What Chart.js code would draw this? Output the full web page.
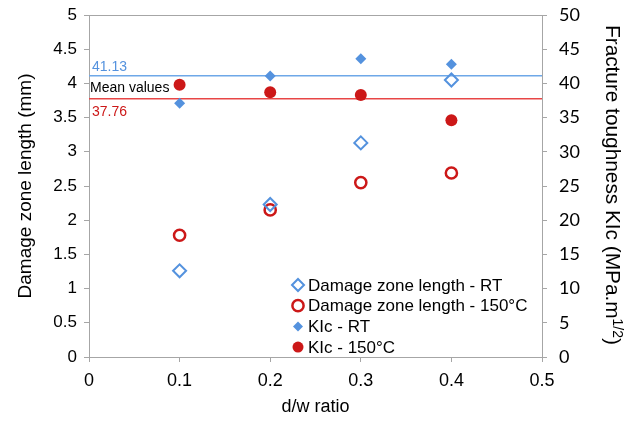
<!DOCTYPE html>
<html>
<head>
<meta charset="utf-8">
<script src="https://cdn.jsdelivr.net/npm/chart.js@4.4.0/dist/chart.umd.min.js"></script>
<style>
  html, body { margin: 0; padding: 0; background: #fff; }
  #wrap { width: 637px; height: 421px; }
</style>
</head>
<body>
<div id="wrap"><canvas id="chart"></canvas></div>
<script>
// d/w ratio on the x axis
var ratios = [0.1, 0.2, 0.3, 0.4];
// damage zone length (mm), left axis
var damageRT = [1.26, 2.23, 3.13, 4.05];
var damage150 = [1.78, 2.15, 2.55, 2.69];
// fracture toughness KIc (MPa.m^1/2), right axis
var kicRT = [37.1, 41.1, 43.6, 42.8];
var kic150 = [39.8, 38.7, 38.3, 34.6];
// mean KIc values
var meanRT = 41.13;
var mean150 = 37.76;
var seriesLabels = ['Damage zone length - RT', 'Damage zone length - 150°C', 'KIc - RT', 'KIc - 150°C'];

var blue = 'rgb(84,146,222)';
var red = 'rgb(204,24,24)';
var axisGrey = '#a6a6a6';
var arial = '"Liberation Sans", Arial, sans-serif';
var lato = 'Lato, "Open Sans", sans-serif';

function pts(xs, ys) {
    return xs.map(function (x, i) { return { x: x, y: ys[i] }; });
}

var insideLegend = {
    id: 'insideLegend',
    afterDraw: function (chart) {
        var ctx = chart.ctx;
        var area = chart.chartArea;
        var y2 = chart.scales.y2;
        ctx.save();
        // top frame line
        ctx.strokeStyle = axisGrey;
        ctx.lineWidth = 1;
        ctx.beginPath();
        ctx.moveTo(area.left, Math.round(area.top) + 0.5);
        ctx.lineTo(area.right, Math.round(area.top) + 0.5);
        ctx.stroke();
        // legend inside the plot
        ctx.textBaseline = 'middle';
        ctx.textAlign = 'left';
        ctx.font = '17px ' + arial;
        for (var i = 0; i < 4; i++) {
            var ds = chart.data.datasets[i];
            var ly = area.bottom - 72 + i * 20.7;
            var lx = area.left + 209;
            ctx.strokeStyle = ds.borderColor;
            ctx.fillStyle = ds.backgroundColor;
            ctx.lineWidth = ds.borderWidth;
            Chart.helpers.drawPoint(ctx, {
                pointStyle: ds.pointStyle,
                radius: ds.legendRadius,
                rotation: 0,
                borderWidth: ds.borderWidth
            }, lx, ly);
            ctx.fillStyle = '#000';
            ctx.fillText(ds.label, lx + 10, ly + 1);
        }
        // mean value labels
        ctx.font = '14px ' + arial;
        var pRT = y2.getPixelForValue(meanRT);
        var p150 = y2.getPixelForValue(mean150);
        ctx.fillStyle = blue;
        ctx.fillText(meanRT.toFixed(2), area.left + 3, pRT - 9);
        ctx.fillStyle = '#000';
        ctx.fillText('Mean values', area.left + 1, (pRT + p150) / 2 + 1);
        ctx.fillStyle = red;
        ctx.fillText(mean150.toFixed(2), area.left + 3, p150 + 13);
        // right axis title with superscript
        ctx.fillStyle = '#000';
        ctx.translate(612, area.top + 10);
        ctx.rotate(Math.PI / 2);
        ctx.textBaseline = 'middle';
        ctx.font = '20.8px ' + arial;
        var main = 'Fracture toughness KIc (MPa.m';
        ctx.fillText(main, 0, 0);
        var w = ctx.measureText(main).width;
        ctx.font = '14px ' + arial;
        ctx.fillText('1/2', w, -5);
        var w2 = ctx.measureText('1/2').width;
        ctx.font = '20.8px ' + arial;
        ctx.fillText(')', w + w2, 0);
        ctx.restore();
    }
};

new Chart(document.getElementById('chart'), {
    type: 'scatter',
    data: {
        datasets: [
            {
                label: seriesLabels[0],
                data: pts(ratios, damageRT),
                yAxisID: 'y',
                pointStyle: 'rectRot',
                pointRadius: 6.5,
                legendRadius: 6,
                borderColor: blue,
                backgroundColor: 'rgba(255,255,255,0)',
                borderWidth: 2
            },
            {
                label: seriesLabels[1],
                data: pts(ratios, damage150),
                yAxisID: 'y',
                pointStyle: 'circle',
                pointRadius: 5.6,
                legendRadius: 5.6,
                borderColor: red,
                backgroundColor: 'rgba(255,255,255,0)',
                borderWidth: 2.5
            },
            {
                label: seriesLabels[2],
                data: pts(ratios, kicRT),
                yAxisID: 'y2',
                pointStyle: 'rectRot',
                pointRadius: 5.5,
                legendRadius: 5,
                borderColor: blue,
                backgroundColor: blue,
                borderWidth: 0
            },
            {
                label: seriesLabels[3],
                data: pts(ratios, kic150),
                yAxisID: 'y2',
                pointStyle: 'circle',
                pointRadius: 6,
                legendRadius: 5.5,
                borderColor: red,
                backgroundColor: red,
                borderWidth: 0
            },
            {
                label: 'mean RT',
                data: [{ x: 0, y: meanRT }, { x: 0.5, y: meanRT }],
                yAxisID: 'y2',
                showLine: true,
                pointRadius: 0,
                borderColor: 'rgb(110,168,232)',
                borderWidth: 1.5
            },
            {
                label: 'mean 150',
                data: [{ x: 0, y: mean150 }, { x: 0.5, y: mean150 }],
                yAxisID: 'y2',
                showLine: true,
                pointRadius: 0,
                borderColor: 'rgb(232,70,70)',
                borderWidth: 1.5
            }
        ]
    },
    options: {
        responsive: true,
        maintainAspectRatio: false,
        animation: false,
        layout: { padding: { top: 15, left: 0, right: 0, bottom: 0 } },
        plugins: {
            legend: { display: false },
            tooltip: { enabled: false }
        },
        scales: {
            x: {
                type: 'linear',
                min: 0,
                max: 0.5,
                afterFit: function (s) { s.height = 64; s.paddingLeft = 0; s.paddingRight = 0; },
                ticks: { stepSize: 0.1, color: '#000', padding: 8, font: { family: arial, size: 18 } },
                grid: { drawOnChartArea: false, drawTicks: true, tickLength: 5, color: axisGrey },
                border: { color: axisGrey },
                title: { display: true, text: 'd/w ratio', color: '#000', padding: { top: 0, bottom: 3 }, font: { family: arial, size: 18 } }
            },
            y: {
                position: 'left',
                min: 0,
                max: 5,
                afterFit: function (s) { s.width = 89; s.paddingTop = 0; s.paddingBottom = 0; },
                ticks: {
                    stepSize: 0.5, color: '#000', padding: 7, font: { family: arial, size: 17 },
                    callback: function (v) { return String(Math.round(v * 10) / 10); }
                },
                grid: { drawOnChartArea: false, drawTicks: true, tickLength: 5, color: axisGrey },
                border: { color: axisGrey },
                title: { display: true, text: 'Damage zone length (mm)', color: '#000', padding: { top: 14, bottom: 0 }, font: { family: arial, size: 19 } }
            },
            y2: {
                position: 'right',
                min: 0,
                max: 50,
                afterFit: function (s) { s.width = 95; s.paddingTop = 0; s.paddingBottom = 0; },
                ticks: { stepSize: 5, color: '#000', padding: 12, font: { family: lato, size: 18 } },
                grid: { drawOnChartArea: false, drawTicks: true, tickLength: 5, color: axisGrey },
                border: { color: axisGrey }
            }
        }
    },
    plugins: [insideLegend]
});
</script>
</body>
</html>
